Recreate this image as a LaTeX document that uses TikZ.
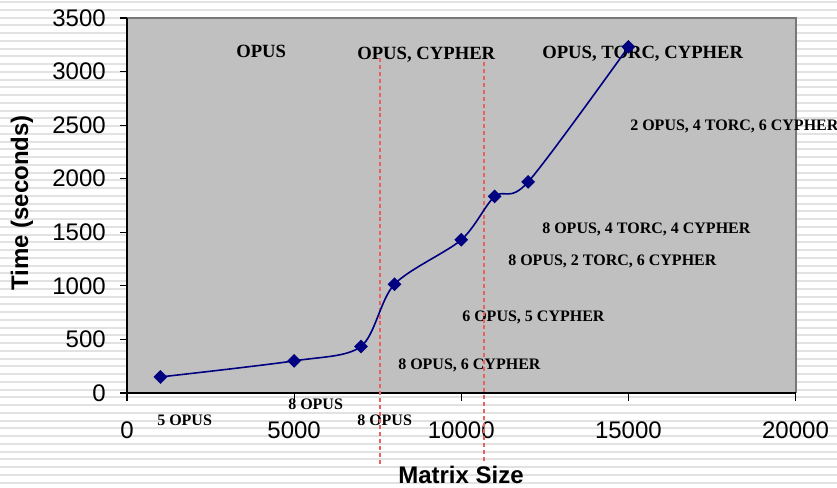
\documentclass[tikz,border=0pt]{standalone}
\usepackage{fontspec}
\setmainfont{Liberation Serif}
\setsansfont{Liberation Sans}
\usetikzlibrary{shapes.geometric}

\definecolor{plotgray}{RGB}{192,192,192}
\definecolor{framegray}{RGB}{120,120,120}
\definecolor{stripe}{RGB}{226,226,226}
\definecolor{series}{RGB}{0,0,128}
\definecolor{divider}{RGB}{236,96,96}

\begin{document}
\begin{tikzpicture}[x=0.75pt, y=-0.75pt,
  ticklabel/.style={font=\sffamily\fontsize{18}{20}\selectfont, inner sep=0},
  axistitle/.style={font=\sffamily\bfseries\fontsize{18}{20}\selectfont, inner sep=0},
  phase/.style={font=\bfseries\fontsize{14}{16}\selectfont, inner sep=0, anchor=base west},
  config/.style={font=\bfseries\fontsize{12}{14}\selectfont, inner sep=0, anchor=base west},
  divline/.style={divider, line width=1.2pt, dash pattern=on 3pt off 2.2pt},
  datapt/.style={diamond, fill=series, inner sep=0, minimum size=10.5pt}]

% page and striped background
\useasboundingbox (0,0) rectangle (837,487);
\fill[white] (0,0) rectangle (837,487);
\foreach \k in {0,...,62}
  \draw[stripe, line width=1.5pt] (0,{2+7.75*\k}) -- (837,{2+7.75*\k});

% plot area
\fill[plotgray] (127,18) rectangle (795.5,393);
\draw[framegray, line width=1.5pt] (127,18) -- (795.5,18) -- (795.5,393);
\draw[black, line width=0.9pt] (127,18) -- (127,393) -- (795.5,393);

% y axis ticks and labels
\foreach \v in {0,500,1000,1500,2000,2500,3000,3500} {
  \draw[black, line width=0.9pt] (120,{393-\v*0.107143}) -- (127,{393-\v*0.107143});
  \node[ticklabel, anchor=east] (yl\v) at (106,{393-\v*0.107143}) {\v};
}
% x axis ticks and labels (positions in thousands)
\foreach \k/\lab in {0/0,5/5000,10/10000,15/15000,20/20000} {
  \draw[black, line width=0.9pt] ({127+\k*33.425},393) -- ({127+\k*33.425},401);
  \node[ticklabel] (xl\k) at ({127+\k*33.425},430.5) {\lab};
}

% axis titles
\node[axistitle, rotate=90] (ytitle) at (22,203) {Time (seconds)};
\node[axistitle, anchor=base] (xtitle) at (461,483) {Matrix Size};

% phase headings
\node[phase] (p1) at (236,57) {OPUS};
\node[phase] (p2) at (357,59) {OPUS, CYPHER};
\node[phase] (p3) at (542,58) {OPUS, TORC, CYPHER};

% configuration labels
\node[config] (c1) at (157,425) {5 OPUS};
\node[config] (c2) at (288,409) {8 OPUS};
\node[config] (c3) at (357,425) {8 OPUS};
\node[config] (c4) at (398,369) {8 OPUS, 6 CYPHER};
\node[config] (c5) at (462,321.7) {6 OPUS, 5 CYPHER};
\node[config] (c6) at (508,265.7) {8 OPUS, 2 TORC, 6 CYPHER};
\node[config] (c7) at (542,233) {8 OPUS, 4 TORC, 4 CYPHER};
\node[config] (c8) at (630,130) {2 OPUS, 4 TORC, 6 CYPHER};

% phase dividers
\draw[divline] (380,58) -- (380,467);
\draw[divline] (484,62) -- (484,464);

% data series: x in thousands, y in seconds
\begin{scope}[shift={(127,393)}, x=25.069pt, y=0.080357pt]
  \draw[series, line width=1.2pt] plot[smooth, tension=0.5] coordinates
    {(1,150) (5,300) (7,435) (8,1015) (10,1430) (11,1835) (12,1970) (15,3230)};
  \foreach \px/\py [count=\i] in {1/150, 5/300, 7/435, 8/1015, 10/1430, 11/1835, 12/1970, 15/3230}
    \node[datapt] (pt\i) at (\px,\py) {};
\end{scope}
\end{tikzpicture}
\end{document}
